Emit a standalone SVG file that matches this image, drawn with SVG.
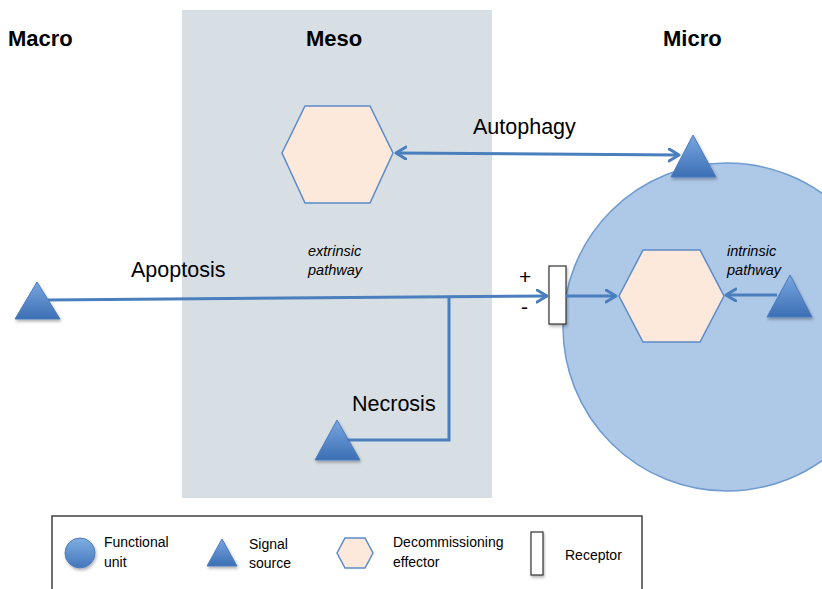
<svg xmlns="http://www.w3.org/2000/svg" width="822" height="589" viewBox="0 0 822 589">
<defs>
<linearGradient id="tri" x1="0" y1="0" x2="0" y2="1">
<stop offset="0" stop-color="#7aa6e0"/>
<stop offset="1" stop-color="#3b6fb4"/>
</linearGradient>
<linearGradient id="disc" x1="0" y1="0" x2="0" y2="1">
<stop offset="0" stop-color="#80aee2"/>
<stop offset="1" stop-color="#4376bb"/>
</linearGradient>
<filter id="sh" x="-20%" y="-20%" width="140%" height="140%">
<feDropShadow dx="1" dy="2" stdDeviation="1.5" flood-color="#000" flood-opacity="0.3"/>
</filter>
<marker id="ah" markerUnits="userSpaceOnUse" markerWidth="14" markerHeight="16" refX="11" refY="7" orient="auto-start-reverse" viewBox="0 0 14 16">
<path d="M1,1 L11,7 L1,13" fill="none" stroke="#4a7ebc" stroke-width="3" stroke-linecap="round" stroke-linejoin="round"/>
</marker>
</defs>
<style>
.title{font-family:"Liberation Sans",Arial,sans-serif;font-weight:bold;font-size:22px;fill:#000}
.lbl{font-family:"Liberation Sans",Arial,sans-serif;font-size:21.5px;fill:#000}
.it{font-family:"Liberation Sans",Arial,sans-serif;font-style:italic;font-size:14.5px;fill:#000}
.leg{font-family:"Liberation Sans",Arial,sans-serif;font-size:14px;fill:#000}
.pm{font-family:"Liberation Sans",Arial,sans-serif;font-size:21px;fill:#000}
.tri{fill:url(#tri);stroke:#4a7cbf;stroke-width:1;filter:url(#sh)}
.hex{fill:#fde9dc;stroke:#5b8bc9;stroke-width:1.5}
.conn{fill:none;stroke:#4a7ebc;stroke-width:3}
.rec{fill:#fff;stroke:#333;stroke-width:1.2;filter:url(#sh)}
</style>
<rect width="822" height="589" fill="#fff"/>

<g id="meso-band">
<rect x="182" y="10" width="310" height="488" fill="#d7dfe4"/>
</g>

<g id="titles">
<text class="title" x="8" y="46">Macro</text>
<text class="title" x="306" y="46">Meso</text>
<text class="title" x="663" y="46">Micro</text>
</g>

<g id="functional-unit">
<circle cx="727" cy="327" r="164" fill="#aec8e7" stroke="#6f9bcf" stroke-width="1.5"/>
</g>

<g id="meso-effector">
<polygon class="hex" points="282,153 305,106 370,106 393,153 370,203 305,203"/>
</g>
<g id="micro-effector">
<polygon class="hex" points="619,296 643,250 700,250 724,296 700,342 643,342"/>
</g>

<g id="autophagy-source">
<polygon class="tri" points="693,135 671,177 716,177"/>
</g>
<g id="apoptosis-source">
<polygon class="tri" points="37,282 15,319 60,319"/>
</g>
<g id="necrosis-source">
<polygon class="tri" points="337,420 315,460 360,460"/>
</g>
<g id="intrinsic-source">
<polygon class="tri" points="790,275 767,317 812,317"/>
</g>

<g id="receptor">
<rect class="rec" x="549" y="266" width="17" height="58"/>
</g>

<g id="connectors">
<line class="conn" x1="396" y1="153" x2="679" y2="155" marker-start="url(#ah)" marker-end="url(#ah)"/>
<line class="conn" x1="48" y1="300" x2="547" y2="296" marker-end="url(#ah)"/>
<polyline class="conn" points="347,440 449,440 449,297"/>
<line class="conn" x1="566" y1="296" x2="616" y2="296" marker-end="url(#ah)"/>
<line class="conn" x1="777" y1="295" x2="726" y2="295" marker-end="url(#ah)"/>
</g>

<g id="labels">
<text class="lbl" x="473" y="134">Autophagy</text>
<text class="lbl" x="131" y="277">Apoptosis</text>
<text class="lbl" x="352" y="411">Necrosis</text>
<text class="it" x="308" y="256">extrinsic</text>
<text class="it" x="308" y="275">pathway</text>
<text class="it" x="727" y="256">intrinsic</text>
<text class="it" x="727" y="275">pathway</text>
<text class="pm" x="519" y="284">+</text>
<text class="pm" x="521" y="314">-</text>
</g>

<g id="legend">
<rect x="52" y="516" width="590" height="85" fill="#fff" stroke="#404040" stroke-width="1.5"/>
<circle cx="80" cy="553" r="15" fill="url(#disc)" stroke="#4a7cbf" stroke-width="1" filter="url(#sh)"/>
<text class="leg" x="104" y="547">Functional</text>
<text class="leg" x="104" y="567">unit</text>
<polygon class="tri" points="222,539 207,566 237,566"/>
<text class="leg" x="249" y="549">Signal</text>
<text class="leg" x="249" y="568">source</text>
<polygon class="hex" points="337,553 345,538 365,538 373,553 365,568 345,568"/>
<text class="leg" x="393" y="547">Decommissioning</text>
<text class="leg" x="393" y="567">effector</text>
<rect class="rec" x="531" y="532" width="12" height="43"/>
<text class="leg" x="565" y="560">Receptor</text>
</g>
</svg>
